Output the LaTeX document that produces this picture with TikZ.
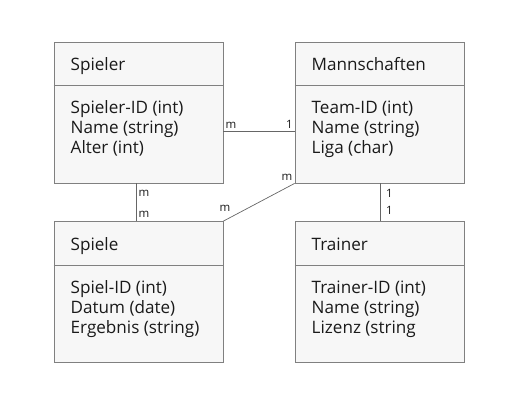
\documentclass[tikz,border=0pt]{standalone}
\usepackage{fontspec}
\setmainfont{Open Sans}
\definecolor{boxfill}{HTML}{F7F7F7}
\definecolor{boxline}{HTML}{808080}
\definecolor{conn}{HTML}{666666}
\definecolor{txt}{HTML}{1A1A1A}
\tikzset{
  entity/.style={draw=boxline, fill=boxfill, line width=0.8pt, minimum width=169pt, minimum height=141pt, inner sep=0pt, rectangle},
  ttl/.style={anchor=base west, inner sep=0pt, font=\fontsize{17.1}{19}\selectfont, text=txt},
  attr/.style={anchor=base west, inner sep=0pt, font=\fontsize{17.1}{19}\selectfont, text=txt},
  card/.style={anchor=base, inner sep=0pt, font=\fontsize{11.5}{13}\selectfont, text=txt},
  conline/.style={draw=conn, line width=0.7pt}
}
\begin{document}
\begin{tikzpicture}[x=1pt,y=-1pt]
\useasboundingbox (0,0) rectangle (510,415);
% Spieler
\node[entity] (s) at (138.5,112.5) {};
\draw[boxline, line width=0.8pt] ([yshift=-44pt]s.north west) -- ([yshift=-44pt]s.north east);
\node[ttl] (s-t) at (70.5,70) {Spieler};
\node[attr] (s-a1) at (70.5,113) {Spieler-ID (int)};
\node[attr] (s-a2) at (70.5,133) {Name (string)};
\node[attr] (s-a3) at (70.5,153) {Alter (int)};
% Mannschaften
\node[entity] (m) at (379.5,112.5) {};
\draw[boxline, line width=0.8pt] ([yshift=-44pt]m.north west) -- ([yshift=-44pt]m.north east);
\node[ttl] (m-t) at (311.5,70) {Mannschaften};
\node[attr] (m-a1) at (311.5,113) {Team-ID (int)};
\node[attr] (m-a2) at (311.5,133) {Name (string)};
\node[attr] (m-a3) at (311.5,153) {Liga (char)};
% Spiele
\node[entity] (g) at (138.5,292) {};
\draw[boxline, line width=0.8pt] ([yshift=-44pt]g.north west) -- ([yshift=-44pt]g.north east);
\node[ttl] (g-t) at (70.5,250) {Spiele};
\node[attr] (g-a1) at (70.5,293) {Spiel-ID (int)};
\node[attr] (g-a2) at (70.5,313) {Datum (date)};
\node[attr] (g-a3) at (70.5,333) {Ergebnis (string)};
% Trainer
\node[entity] (t) at (379.5,292) {};
\draw[boxline, line width=0.8pt] ([yshift=-44pt]t.north west) -- ([yshift=-44pt]t.north east);
\node[ttl] (t-t) at (311.5,250) {Trainer};
\node[attr] (t-a1) at (311.5,293) {Trainer-ID (int)};
\node[attr] (t-a2) at (311.5,313) {Name (string)};
\node[attr] (t-a3) at (311.5,333) {Lizenz (string};
% connectors
\draw[conline] ([yshift=-19pt]s.east) -- ([yshift=-19pt]m.west);
\draw[conline] ([xshift=-2pt]s.south) -- ([xshift=-2pt]g.north);
\draw[conline] ([xshift=1pt]m.south) -- ([xshift=1pt]t.north);
\draw[conline] (m.south west) -- (g.north east);
% cardinalities
\node[card] (c1) at (231,128) {m};
\node[card] (c2) at (289.5,128) {1};
\node[card] (c3) at (144,196) {m};
\node[card] (c4) at (144,217) {m};
\node[card] (c5) at (389.5,197.5) {1};
\node[card] (c6) at (389.5,214) {1};
\node[card] (c7) at (287,180) {m};
\node[card] (c8) at (225,211) {m};
\end{tikzpicture}
\end{document}
